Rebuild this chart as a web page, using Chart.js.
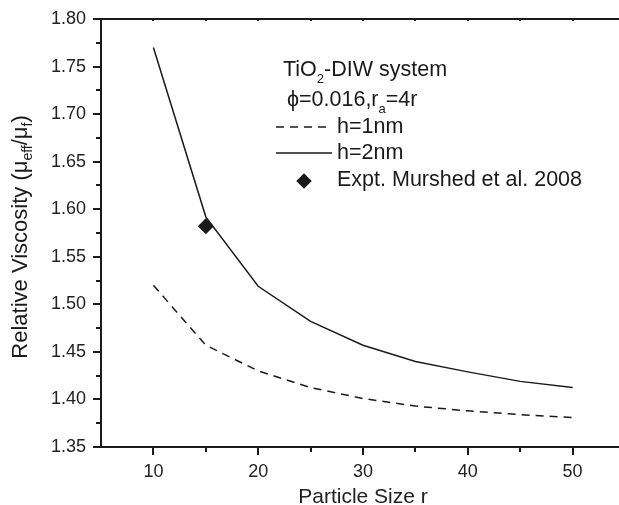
<!DOCTYPE html>
<html>
<head>
<meta charset="utf-8">
<script src="https://cdn.jsdelivr.net/npm/chart.js@4"></script>
<style>
  html, body { margin: 0; padding: 0; overflow: hidden; background: #fff; }
  canvas { display: block; }
</style>
</head>
<body>
<canvas id="myChart" width="633" height="505"></canvas>
<script>
// values
const particleSizes = [10, 15, 20, 25, 30, 35, 40, 45, 50];
const viscosityH1 = [1.520, 1.457, 1.430, 1.4125, 1.401, 1.393, 1.388, 1.384, 1.381];
const viscosityH2 = [1.770, 1.592, 1.519, 1.482, 1.457, 1.440, 1.429, 1.419, 1.4125];
const exptSizes = [15];
const exptViscosity = [1.582];

const xTicks = [10, 20, 30, 40, 50];
const xMinorTicks = [15, 25, 35, 45, 55];
const yTicks = [1.35, 1.40, 1.45, 1.50, 1.55, 1.60, 1.65, 1.70, 1.75, 1.80];
const yMinorTicks = [1.375, 1.425, 1.475, 1.525, 1.575, 1.625, 1.675, 1.725, 1.775];

const FONT = '"Liberation Sans", Arial, sans-serif';
const ink = '#1a1a1a';

const toPoints = (xs, ys) => xs.map((v, i) => ({ x: v, y: ys[i] }));

// text with subscripts, parts = [[text, isSub], ...]
const measureRich = (ctx, parts, size, subSize) => {
  let w = 0;
  parts.forEach(([t, sub]) => {
    ctx.font = (sub ? subSize : size) + 'px ' + FONT;
    w += ctx.measureText(t).width;
  });
  return w;
};
const drawRich = (ctx, parts, x, y, size, subSize, shift) => {
  ctx.textAlign = 'left';
  ctx.textBaseline = 'middle';
  parts.forEach(([t, sub]) => {
    ctx.font = (sub ? subSize : size) + 'px ' + FONT;
    ctx.fillText(t, x, sub ? y + shift : y);
    x += ctx.measureText(t).width;
  });
};

// keep the plot box where the figure has it
const noPadding = s => {
  s.paddingTop = 0;
  s.paddingBottom = 0;
  s.paddingLeft = 0;
  s.paddingRight = 0;
};

const decorations = {
  id: 'decorations',
  afterDraw(chart) {
    const { ctx, chartArea: a, scales: { x, y } } = chart;
    ctx.save();
    ctx.strokeStyle = ink;
    ctx.fillStyle = ink;
    ctx.lineWidth = 2;

    // top frame line
    ctx.beginPath();
    ctx.moveTo(a.left - 1, a.top);
    ctx.lineTo(a.right, a.top);
    ctx.stroke();

    // tick marks, major and minor
    const xMark = (v, len) => {
      const px = Math.round(x.getPixelForValue(v));
      ctx.beginPath();
      ctx.moveTo(px, a.bottom);
      ctx.lineTo(px, a.bottom + len);
      ctx.moveTo(px, a.top);
      ctx.lineTo(px, a.top + 2);
      ctx.stroke();
    };
    const yMark = (v, len) => {
      const py = Math.round(y.getPixelForValue(v));
      ctx.beginPath();
      ctx.moveTo(a.left, py);
      ctx.lineTo(a.left - len, py);
      ctx.stroke();
    };
    xTicks.forEach(v => xMark(v, 8));
    xMinorTicks.forEach(v => xMark(v, 5));
    yTicks.forEach(v => yMark(v, 8));
    yMinorTicks.forEach(v => yMark(v, 5));

    // y axis title, rotated, with subscripts
    const title = [['Relative Viscosity (\u03bc', false], ['eff', true], ['/\u03bc', false], ['f', true], [')', false]];
    const tw = measureRich(ctx, title, 22, 14);
    ctx.save();
    ctx.translate(21, (a.top + a.bottom) / 2 + 4);
    ctx.rotate(-Math.PI / 2);
    drawRich(ctx, title, -tw / 2, 0, 22, 14, 7);
    ctx.restore();

    // legend block
    drawRich(ctx, [['TiO', false], ['2', true], ['-DIW system', false]], 283, 70, 21.5, 13, 9);
    drawRich(ctx, [['\u03d5=0.016,r', false], ['a', true], ['=4r', false]], 287, 100, 21.5, 13, 9);

    const ds = chart.data.datasets;
    const rows = [
      { meta: ds[1], label: 'h=1nm', y: 127 },
      { meta: ds[2], label: 'h=2nm', y: 153 }
    ];
    rows.forEach(r => {
      ctx.save();
      ctx.lineWidth = r.meta.borderWidth;
      ctx.strokeStyle = r.meta.borderColor;
      ctx.setLineDash(r.meta.borderDash || []);
      ctx.beginPath();
      ctx.moveTo(276, r.y);
      ctx.lineTo(332, r.y);
      ctx.stroke();
      ctx.restore();
      drawRich(ctx, [[r.label, false]], 337, r.y, 21.5, 13, 0);
    });
    Chart.helpers.drawPoint(ctx, {
      pointStyle: ds[0].pointStyle, radius: 7.5, borderWidth: 0
    }, 304, 181);
    ctx.fill();
    drawRich(ctx, [[ds[0].label, false]], 337, 180, 21.5, 13, 0);

    ctx.restore();
  }
};

const ctx = document.getElementById('myChart').getContext('2d');
new Chart(ctx, {
  type: 'line',
  data: {
    datasets: [
      {
        label: 'Expt. Murshed et al. 2008',
        data: toPoints(exptSizes, exptViscosity),
        showLine: false,
        pointStyle: 'rectRot',
        pointRadius: 8,
        pointBackgroundColor: ink,
        pointBorderWidth: 0,
        order: 0
      },
      {
        label: 'h=1nm',
        data: toPoints(particleSizes, viscosityH1),
        borderColor: ink,
        borderWidth: 1.5,
        borderDash: [8, 6],
        pointRadius: 0,
        tension: 0,
        order: 1
      },
      {
        label: 'h=2nm',
        data: toPoints(particleSizes, viscosityH2),
        borderColor: ink,
        borderWidth: 1.5,
        pointRadius: 0,
        tension: 0,
        order: 2
      }
    ]
  },
  options: {
    responsive: false,
    animation: false,
    layout: { padding: { top: 19, right: 2, left: 0, bottom: 0 } },
    plugins: {
      legend: { display: false },
      tooltip: { enabled: false }
    },
    scales: {
      x: {
        type: 'linear',
        min: 5,
        max: 55,
        afterBuildTicks: s => { s.ticks = xTicks.map(v => ({ value: v })); },
        afterFit: s => { s.height = 58; noPadding(s); },
        grid: { display: false, drawTicks: false },
        border: { display: true, color: ink, width: 2 },
        ticks: {
          padding: 14,
          color: '#222',
          font: { family: FONT, size: 18 },
          callback: v => String(v)
        },
        title: {
          display: true,
          text: 'Particle Size r',
          color: '#222',
          font: { family: FONT, size: 21, lineHeight: 1 },
          padding: { top: 0, bottom: -3 }
        }
      },
      y: {
        min: 1.35,
        max: 1.80,
        afterBuildTicks: s => { s.ticks = yTicks.map(v => ({ value: v })); },
        afterFit: s => { s.width = 101; noPadding(s); },
        grid: { display: false, drawTicks: false },
        border: { display: true, color: ink, width: 2 },
        ticks: {
          padding: 15,
          color: '#222',
          font: { family: FONT, size: 18 },
          callback: v => v.toFixed(2)
        }
      }
    }
  },
  plugins: [decorations]
});
</script>
</body>
</html>
